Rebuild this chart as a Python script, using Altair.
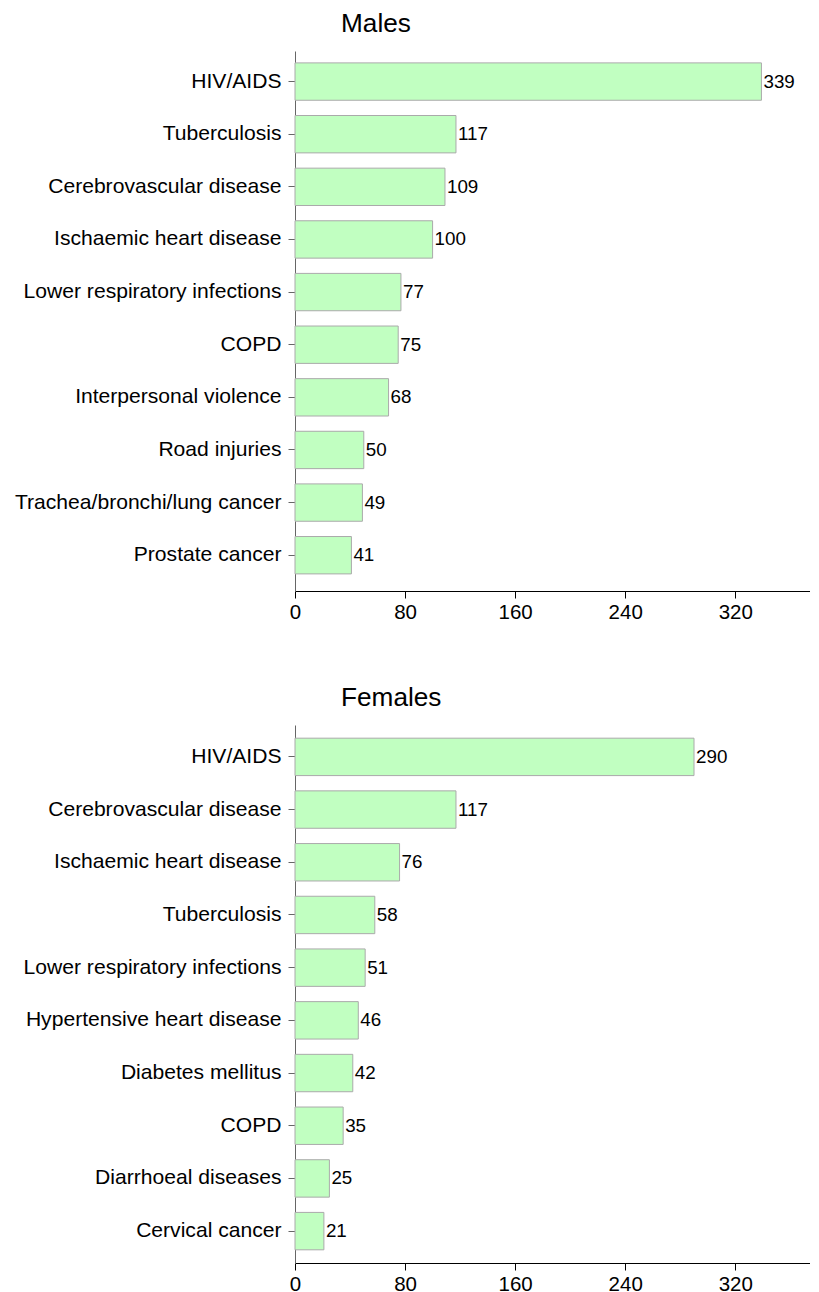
import altair as alt
import pandas as pd

male_causes = ["HIV/AIDS", "Tuberculosis", "Cerebrovascular disease", "Ischaemic heart disease",
               "Lower respiratory infections", "COPD", "Interpersonal violence", "Road injuries",
               "Trachea/bronchi/lung cancer", "Prostate cancer"]
male_values = [339, 117, 109, 100, 77, 75, 68, 50, 49, 41]

female_causes = ["HIV/AIDS", "Cerebrovascular disease", "Ischaemic heart disease", "Tuberculosis",
                 "Lower respiratory infections", "Hypertensive heart disease", "Diabetes mellitus",
                 "COPD", "Diarrhoeal diseases", "Cervical cancer"]
female_values = [290, 117, 76, 58, 51, 46, 42, 35, 25, 21]

x_ticks = [0, 80, 160, 240, 320]
FONT = "Liberation Sans"


def panel(title, causes, values, height, pad_outer, align):
    df = pd.DataFrame({"cause": causes, "value": values})
    x = alt.X("value:Q", scale=alt.Scale(domain=[0, 374.3], nice=False, zero=True),
              axis=alt.Axis(values=x_ticks, title=None, grid=False, domainColor="black",
                            tickColor="black", tickSize=7, labelFontSize=20.5, labelFont=FONT,
                            labelColor="black", labelPadding=4, labelFlush=False))
    y = alt.Y("cause:N", sort=causes,
              scale=alt.Scale(paddingInner=0.29, paddingOuter=pad_outer, align=align),
              axis=alt.Axis(title=None, domainColor="#666666", tickColor="#666666", tickSize=7,
                            labelFontSize=21.1, labelFont=FONT, labelColor="black", labelPadding=7,
                            labelLimit=400))
    bars = alt.Chart(df).mark_bar(fill="#C1FFC1", stroke="#AAAAAA", strokeWidth=1).encode(x=x, y=y)
    text = alt.Chart(df).mark_text(align="left", baseline="middle", dx=2, fontSize=18.8,
                                   font=FONT, color="black").encode(
        x="value:Q", y=alt.Y("cause:N", sort=causes), text="value:Q")
    return alt.layer(bars, text).properties(
        width=515, height=height,
        title=alt.TitleParams(title, anchor="start", frame="group", dx=46, fontSize=26.2,
                              font=FONT, fontWeight="normal", color="black", offset=14))


chart = alt.vconcat(
    panel("Males", male_causes, male_values, 540, 0.2755, 0.41),
    panel("Females", female_causes, female_values, 538, 0.25, 0.5),
    spacing=61,
).properties(padding={"left": 6, "top": 2, "right": 0, "bottom": 0}).configure_view(stroke=None)

chart.save("out.html", embed_options={"renderer": "svg", "actions": False})
